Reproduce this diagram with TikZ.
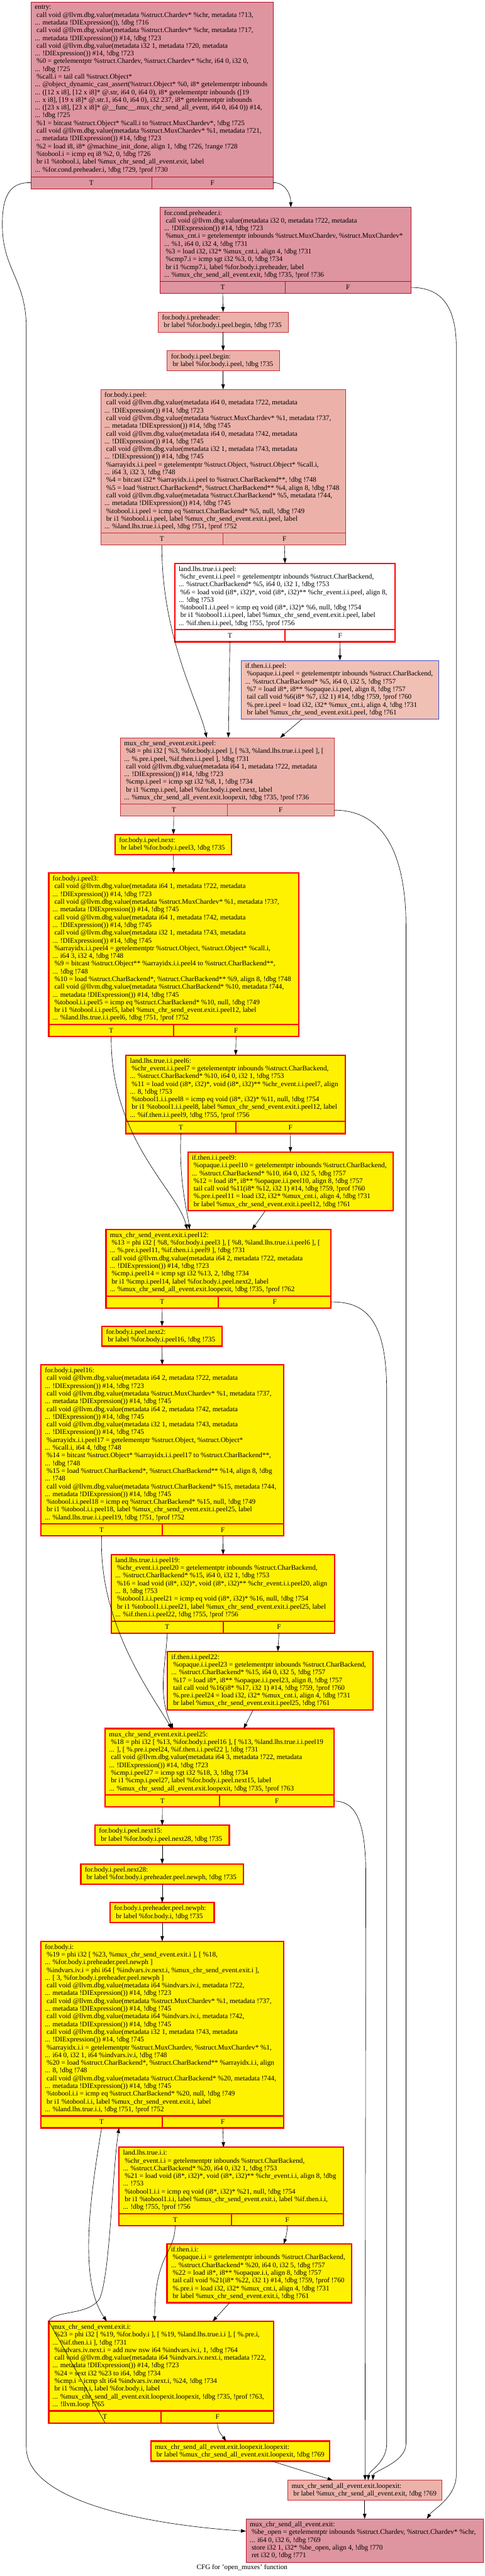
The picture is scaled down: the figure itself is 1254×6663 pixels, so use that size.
\documentclass[tikz,border=0pt]{standalone}
\usepackage{fontspec}
\setmainfont{Liberation Serif}
\usepackage{xcolor}
\usepackage{tikz}
\usetikzlibrary{arrows.meta}
\definecolor{hotline}{HTML}{B70D28}
\definecolor{hotfill}{HTML}{DF95A0}
\definecolor{warmline}{HTML}{C5303A}
\definecolor{warmfill}{HTML}{ECB2AA}
\definecolor{coolline}{HTML}{3D50C3}
\definecolor{coolfill}{HTML}{F1C0B4}
\newcommand{\irfont}{\fontsize{18.2}{20}\selectfont}
% one basic block: name, style, x, y, width, lines, text
\newcommand{\bblock}[7]{%
  \node[irbox, #2, minimum width=#5, minimum height={20*#6+12}] (#1) at (#3,#4) {};
  \node[irtext] (#1-code) at ([xshift=10pt]#1.west) {#7};}
% block ending in a conditional branch: adds the T and F cells
\newcommand{\bbranch}[7]{%
  \bblock{#1}{#2}{#3}{#4}{#5}{#6}{#7}
  \node[irbox, #2, minimum width={#5/2}, minimum height=31] (#1T) at (#1.south west) {T};
  \node[irbox, #2, minimum width={#5/2}, minimum height=31] (#1F) at (#1T.north east) {F};}

\begin{document}
\begin{tikzpicture}[x=1pt, y=-1pt,
    irbox/.style={rectangle, anchor=north west, inner sep=0pt, outer sep=0pt, font=\irfont},
    irtext/.style={anchor=west, inner sep=0pt, align=left, font=\irfont},
    hot/.style={draw=hotline, fill=hotfill, line width=1pt},
    warm/.style={draw=warmline, fill=warmfill, line width=1pt},
    cool/.style={draw=coolline, fill=coolfill, line width=1pt},
    hiwhite/.style={draw=red, fill=white, line width=3.5pt},
    hiyellow/.style={draw=red, fill=yellow, line width=3.5pt},
    flow/.style={-{Triangle[length=13pt,width=9pt]}, line width=1pt}]
\useasboundingbox (0,0) rectangle (1254,6663);

\bbranch{entry}{hot}{80}{5}{626}{22}{entry:\\
\ call void @llvm.dbg.value(metadata \%struct.Chardev* \%chr, metadata !713,\\
... metadata !DIExpression()), !dbg !716\\
\ call void @llvm.dbg.value(metadata \%struct.Chardev* \%chr, metadata !717,\\
... metadata !DIExpression()) \#14, !dbg !723\\
\ call void @llvm.dbg.value(metadata i32 1, metadata !720, metadata\\
... !DIExpression()) \#14, !dbg !723\\
\ \%0 = getelementptr \%struct.Chardev, \%struct.Chardev* \%chr, i64 0, i32 0,\\
... !dbg !725\\
\ \%call.i = tail call \%struct.Object*\\
... @object\_dynamic\_cast\_assert(\%struct.Object* \%0, i8* getelementptr inbounds\\
... ([12 x i8], [12 x i8]* @.str, i64 0, i64 0), i8* getelementptr inbounds ([19\\
... x i8], [19 x i8]* @.str.1, i64 0, i64 0), i32 237, i8* getelementptr inbounds\\
... ([23 x i8], [23 x i8]* @\_\_func\_\_.mux\_chr\_send\_all\_event, i64 0, i64 0)) \#14,\\
... !dbg !725\\
\ \%1 = bitcast \%struct.Object* \%call.i to \%struct.MuxChardev*, !dbg !725\\
\ call void @llvm.dbg.value(metadata \%struct.MuxChardev* \%1, metadata !721,\\
... metadata !DIExpression()) \#14, !dbg !723\\
\ \%2 = load i8, i8* @machine\_init\_done, align 1, !dbg !726, !range !728\\
\ \%tobool.i = icmp eq i8 \%2, 0, !dbg !726\\
\ br i1 \%tobool.i, label \%mux\_chr\_send\_all\_event.exit, label\\
... \%for.cond.preheader.i, !dbg !729, !prof !730}

\bbranch{condpre}{hot}{414}{536}{648}{9}{for.cond.preheader.i:\\
\ call void @llvm.dbg.value(metadata i32 0, metadata !722, metadata\\
... !DIExpression()) \#14, !dbg !723\\
\ \%mux\_cnt.i = getelementptr inbounds \%struct.MuxChardev, \%struct.MuxChardev*\\
... \%1, i64 0, i32 4, !dbg !731\\
\ \%3 = load i32, i32* \%mux\_cnt.i, align 4, !dbg !731\\
\ \%cmp7.i = icmp sgt i32 \%3, 0, !dbg !734\\
\ br i1 \%cmp7.i, label \%for.body.i.preheader, label\\
... \%mux\_chr\_send\_all\_event.exit, !dbg !735, !prof !736}

\bblock{bodypre}{warm}{409}{807}{336}{2}{for.body.i.preheader:\\
\ br label \%for.body.i.peel.begin, !dbg !735}

\bblock{peelbegin}{warm}{432}{907}{290}{2}{for.body.i.peel.begin:\\
\ br label \%for.body.i.peel, !dbg !735}

\bbranch{peel}{warm}{260}{1007}{634}{18}{for.body.i.peel:\\
\ call void @llvm.dbg.value(metadata i64 0, metadata !722, metadata\\
... !DIExpression()) \#14, !dbg !723\\
\ call void @llvm.dbg.value(metadata \%struct.MuxChardev* \%1, metadata !737,\\
... metadata !DIExpression()) \#14, !dbg !745\\
\ call void @llvm.dbg.value(metadata i64 0, metadata !742, metadata\\
... !DIExpression()) \#14, !dbg !745\\
\ call void @llvm.dbg.value(metadata i32 1, metadata !743, metadata\\
... !DIExpression()) \#14, !dbg !745\\
\ \%arrayidx.i.i.peel = getelementptr \%struct.Object, \%struct.Object* \%call.i,\\
... i64 3, i32 3, !dbg !748\\
\ \%4 = bitcast i32* \%arrayidx.i.i.peel to \%struct.CharBackend**, !dbg !748\\
\ \%5 = load \%struct.CharBackend*, \%struct.CharBackend** \%4, align 8, !dbg !748\\
\ call void @llvm.dbg.value(metadata \%struct.CharBackend* \%5, metadata !744,\\
... metadata !DIExpression()) \#14, !dbg !745\\
\ \%tobool.i.i.peel = icmp eq \%struct.CharBackend* \%5, null, !dbg !749\\
\ br i1 \%tobool.i.i.peel, label \%mux\_chr\_send\_event.exit.i.peel, label\\
... \%land.lhs.true.i.i.peel, !dbg !751, !prof !752}

\bbranch{landpeel}{hiwhite}{452}{1457}{570}{8}{land.lhs.true.i.i.peel:\\
\ \%chr\_event.i.i.peel = getelementptr inbounds \%struct.CharBackend,\\
... \%struct.CharBackend* \%5, i64 0, i32 1, !dbg !753\\
\ \%6 = load void (i8*, i32)*, void (i8*, i32)** \%chr\_event.i.i.peel, align 8,\\
... !dbg !753\\
\ \%tobool1.i.i.peel = icmp eq void (i8*, i32)* \%6, null, !dbg !754\\
\ br i1 \%tobool1.i.i.peel, label \%mux\_chr\_send\_event.exit.i.peel, label\\
... \%if.then.i.i.peel, !dbg !755, !prof !756}

\bblock{ifpeel}{cool}{624}{1708}{510}{7}{if.then.i.i.peel:\\
\ \%opaque.i.i.peel = getelementptr inbounds \%struct.CharBackend,\\
... \%struct.CharBackend* \%5, i64 0, i32 5, !dbg !757\\
\ \%7 = load i8*, i8** \%opaque.i.i.peel, align 8, !dbg !757\\
\ tail call void \%6(i8* \%7, i32 1) \#14, !dbg !759, !prof !760\\
\ \%.pre.i.peel = load i32, i32* \%mux\_cnt.i, align 4, !dbg !731\\
\ br label \%mux\_chr\_send\_event.exit.i.peel, !dbg !761}

\bbranch{muxpeel}{warm}{311}{1908}{553}{8}{mux\_chr\_send\_event.exit.i.peel:\\
\ \%8 = phi i32 [ \%3, \%for.body.i.peel ], [ \%3, \%land.lhs.true.i.i.peel ], [\\
... \%.pre.i.peel, \%if.then.i.i.peel ], !dbg !731\\
\ call void @llvm.dbg.value(metadata i64 1, metadata !722, metadata\\
... !DIExpression()) \#14, !dbg !723\\
\ \%cmp.i.peel = icmp sgt i32 \%8, 1, !dbg !734\\
\ br i1 \%cmp.i.peel, label \%for.body.i.peel.next, label\\
... \%mux\_chr\_send\_all\_event.exit.loopexit, !dbg !735, !prof !736}

\bblock{peelnext}{hiyellow}{298}{2158}{301}{2}{for.body.i.peel.next:\\
\ br label \%for.body.i.peel3, !dbg !735}

\bbranch{peelthree}{hiyellow}{126}{2258}{646}{19}{for.body.i.peel3:\\
\ call void @llvm.dbg.value(metadata i64 1, metadata !722, metadata\\
... !DIExpression()) \#14, !dbg !723\\
\ call void @llvm.dbg.value(metadata \%struct.MuxChardev* \%1, metadata !737,\\
... metadata !DIExpression()) \#14, !dbg !745\\
\ call void @llvm.dbg.value(metadata i64 1, metadata !742, metadata\\
... !DIExpression()) \#14, !dbg !745\\
\ call void @llvm.dbg.value(metadata i32 1, metadata !743, metadata\\
... !DIExpression()) \#14, !dbg !745\\
\ \%arrayidx.i.i.peel4 = getelementptr \%struct.Object, \%struct.Object* \%call.i,\\
... i64 3, i32 4, !dbg !748\\
\ \%9 = bitcast \%struct.Object** \%arrayidx.i.i.peel4 to \%struct.CharBackend**,\\
... !dbg !748\\
\ \%10 = load \%struct.CharBackend*, \%struct.CharBackend** \%9, align 8, !dbg !748\\
\ call void @llvm.dbg.value(metadata \%struct.CharBackend* \%10, metadata !744,\\
... metadata !DIExpression()) \#14, !dbg !745\\
\ \%tobool.i.i.peel5 = icmp eq \%struct.CharBackend* \%10, null, !dbg !749\\
\ br i1 \%tobool.i.i.peel5, label \%mux\_chr\_send\_event.exit.i.peel12, label\\
... \%land.lhs.true.i.i.peel6, !dbg !751, !prof !752}

\bbranch{landsix}{hiyellow}{326}{2729}{567}{8}{land.lhs.true.i.i.peel6:\\
\ \%chr\_event.i.i.peel7 = getelementptr inbounds \%struct.CharBackend,\\
... \%struct.CharBackend* \%10, i64 0, i32 1, !dbg !753\\
\ \%11 = load void (i8*, i32)*, void (i8*, i32)** \%chr\_event.i.i.peel7, align\\
... 8, !dbg !753\\
\ \%tobool1.i.i.peel8 = icmp eq void (i8*, i32)* \%11, null, !dbg !754\\
\ br i1 \%tobool1.i.i.peel8, label \%mux\_chr\_send\_event.exit.i.peel12, label\\
... \%if.then.i.i.peel9, !dbg !755, !prof !756}

\bblock{ifnine}{hiyellow}{486}{2980}{530}{7}{if.then.i.i.peel9:\\
\ \%opaque.i.i.peel10 = getelementptr inbounds \%struct.CharBackend,\\
... \%struct.CharBackend* \%10, i64 0, i32 5, !dbg !757\\
\ \%12 = load i8*, i8** \%opaque.i.i.peel10, align 8, !dbg !757\\
\ tail call void \%11(i8* \%12, i32 1) \#14, !dbg !759, !prof !760\\
\ \%.pre.i.peel11 = load i32, i32* \%mux\_cnt.i, align 4, !dbg !731\\
\ br label \%mux\_chr\_send\_event.exit.i.peel12, !dbg !761}

\bbranch{muxtwelve}{hiyellow}{274}{3180}{582}{8}{mux\_chr\_send\_event.exit.i.peel12:\\
\ \%13 = phi i32 [ \%8, \%for.body.i.peel3 ], [ \%8, \%land.lhs.true.i.i.peel6 ], [\\
... \%.pre.i.peel11, \%if.then.i.i.peel9 ], !dbg !731\\
\ call void @llvm.dbg.value(metadata i64 2, metadata !722, metadata\\
... !DIExpression()) \#14, !dbg !723\\
\ \%cmp.i.peel14 = icmp sgt i32 \%13, 2, !dbg !734\\
\ br i1 \%cmp.i.peel14, label \%for.body.i.peel.next2, label\\
... \%mux\_chr\_send\_all\_event.exit.loopexit, !dbg !735, !prof !762}

\bblock{peelnexttwo}{hiyellow}{264}{3430}{310}{2}{for.body.i.peel.next2:\\
\ br label \%for.body.i.peel16, !dbg !735}

\bbranch{peelsixteen}{hiyellow}{106}{3530}{627}{20}{for.body.i.peel16:\\
\ call void @llvm.dbg.value(metadata i64 2, metadata !722, metadata\\
... !DIExpression()) \#14, !dbg !723\\
\ call void @llvm.dbg.value(metadata \%struct.MuxChardev* \%1, metadata !737,\\
... metadata !DIExpression()) \#14, !dbg !745\\
\ call void @llvm.dbg.value(metadata i64 2, metadata !742, metadata\\
... !DIExpression()) \#14, !dbg !745\\
\ call void @llvm.dbg.value(metadata i32 1, metadata !743, metadata\\
... !DIExpression()) \#14, !dbg !745\\
\ \%arrayidx.i.i.peel17 = getelementptr \%struct.Object, \%struct.Object*\\
... \%call.i, i64 4, !dbg !748\\
\ \%14 = bitcast \%struct.Object* \%arrayidx.i.i.peel17 to \%struct.CharBackend**,\\
... !dbg !748\\
\ \%15 = load \%struct.CharBackend*, \%struct.CharBackend** \%14, align 8, !dbg\\
... !748\\
\ call void @llvm.dbg.value(metadata \%struct.CharBackend* \%15, metadata !744,\\
... metadata !DIExpression()) \#14, !dbg !745\\
\ \%tobool.i.i.peel18 = icmp eq \%struct.CharBackend* \%15, null, !dbg !749\\
\ br i1 \%tobool.i.i.peel18, label \%mux\_chr\_send\_event.exit.i.peel25, label\\
... \%land.lhs.true.i.i.peel19, !dbg !751, !prof !752}

\bbranch{landnineteen}{hiyellow}{288}{4021}{578}{8}{land.lhs.true.i.i.peel19:\\
\ \%chr\_event.i.i.peel20 = getelementptr inbounds \%struct.CharBackend,\\
... \%struct.CharBackend* \%15, i64 0, i32 1, !dbg !753\\
\ \%16 = load void (i8*, i32)*, void (i8*, i32)** \%chr\_event.i.i.peel20, align\\
... 8, !dbg !753\\
\ \%tobool1.i.i.peel21 = icmp eq void (i8*, i32)* \%16, null, !dbg !754\\
\ br i1 \%tobool1.i.i.peel21, label \%mux\_chr\_send\_event.exit.i.peel25, label\\
... \%if.then.i.i.peel22, !dbg !755, !prof !756}

\bblock{iftwentytwo}{hiyellow}{433}{4271}{531}{7}{if.then.i.i.peel22:\\
\ \%opaque.i.i.peel23 = getelementptr inbounds \%struct.CharBackend,\\
... \%struct.CharBackend* \%15, i64 0, i32 5, !dbg !757\\
\ \%17 = load i8*, i8** \%opaque.i.i.peel23, align 8, !dbg !757\\
\ tail call void \%16(i8* \%17, i32 1) \#14, !dbg !759, !prof !760\\
\ \%.pre.i.peel24 = load i32, i32* \%mux\_cnt.i, align 4, !dbg !731\\
\ br label \%mux\_chr\_send\_event.exit.i.peel25, !dbg !761}

\bbranch{muxtwentyfive}{hiyellow}{272}{4471}{592}{8}{mux\_chr\_send\_event.exit.i.peel25:\\
\ \%18 = phi i32 [ \%13, \%for.body.i.peel16 ], [ \%13, \%land.lhs.true.i.i.peel19\\
... ], [ \%.pre.i.peel24, \%if.then.i.i.peel22 ], !dbg !731\\
\ call void @llvm.dbg.value(metadata i64 3, metadata !722, metadata\\
... !DIExpression()) \#14, !dbg !723\\
\ \%cmp.i.peel27 = icmp sgt i32 \%18, 3, !dbg !734\\
\ br i1 \%cmp.i.peel27, label \%for.body.i.peel.next15, label\\
... \%mux\_chr\_send\_all\_event.exit.loopexit, !dbg !735, !prof !763}

\bblock{nextfifteen}{hiyellow}{246}{4721}{347}{2}{for.body.i.peel.next15:\\
\ br label \%for.body.i.peel.next28, !dbg !735}

\bblock{nexttwentyeight}{hiyellow}{209}{4821}{421}{2}{for.body.i.peel.next28:\\
\ br label \%for.body.i.preheader.peel.newph, !dbg !735}

\bblock{newph}{hiyellow}{285}{4921}{269}{2}{for.body.i.preheader.peel.newph:\\
\ br label \%for.body.i, !dbg !735}

\bbranch{bodyi}{hiyellow}{106}{5021}{627}{22}{for.body.i:\\
\ \%19 = phi i32 [ \%23, \%mux\_chr\_send\_event.exit.i ], [ \%18,\\
... \%for.body.i.preheader.peel.newph ]\\
\ \%indvars.iv.i = phi i64 [ \%indvars.iv.next.i, \%mux\_chr\_send\_event.exit.i ],\\
... [ 3, \%for.body.i.preheader.peel.newph ]\\
\ call void @llvm.dbg.value(metadata i64 \%indvars.iv.i, metadata !722,\\
... metadata !DIExpression()) \#14, !dbg !723\\
\ call void @llvm.dbg.value(metadata \%struct.MuxChardev* \%1, metadata !737,\\
... metadata !DIExpression()) \#14, !dbg !745\\
\ call void @llvm.dbg.value(metadata i64 \%indvars.iv.i, metadata !742,\\
... metadata !DIExpression()) \#14, !dbg !745\\
\ call void @llvm.dbg.value(metadata i32 1, metadata !743, metadata\\
... !DIExpression()) \#14, !dbg !745\\
\ \%arrayidx.i.i = getelementptr \%struct.MuxChardev, \%struct.MuxChardev* \%1,\\
... i64 0, i32 1, i64 \%indvars.iv.i, !dbg !748\\
\ \%20 = load \%struct.CharBackend*, \%struct.CharBackend** \%arrayidx.i.i, align\\
... 8, !dbg !748\\
\ call void @llvm.dbg.value(metadata \%struct.CharBackend* \%20, metadata !744,\\
... metadata !DIExpression()) \#14, !dbg !745\\
\ \%tobool.i.i = icmp eq \%struct.CharBackend* \%20, null, !dbg !749\\
\ br i1 \%tobool.i.i, label \%mux\_chr\_send\_event.exit.i, label\\
... \%land.lhs.true.i.i, !dbg !751, !prof !752}

\bbranch{landi}{hiyellow}{308}{5554}{580}{8}{land.lhs.true.i.i:\\
\ \%chr\_event.i.i = getelementptr inbounds \%struct.CharBackend,\\
... \%struct.CharBackend* \%20, i64 0, i32 1, !dbg !753\\
\ \%21 = load void (i8*, i32)*, void (i8*, i32)** \%chr\_event.i.i, align 8, !dbg\\
... !753\\
\ \%tobool1.i.i = icmp eq void (i8*, i32)* \%21, null, !dbg !754\\
\ br i1 \%tobool1.i.i, label \%mux\_chr\_send\_event.exit.i, label \%if.then.i.i,\\
... !dbg !755, !prof !756}

\bblock{ifi}{hiyellow}{432}{5804}{478}{7}{if.then.i.i:\\
\ \%opaque.i.i = getelementptr inbounds \%struct.CharBackend,\\
... \%struct.CharBackend* \%20, i64 0, i32 5, !dbg !757\\
\ \%22 = load i8*, i8** \%opaque.i.i, align 8, !dbg !757\\
\ tail call void \%21(i8* \%22, i32 1) \#14, !dbg !759, !prof !760\\
\ \%.pre.i = load i32, i32* \%mux\_cnt.i, align 4, !dbg !731\\
\ br label \%mux\_chr\_send\_event.exit.i, !dbg !761}

\bbranch{muxi}{hiyellow}{126}{6004}{582}{11}{mux\_chr\_send\_event.exit.i:\\
\ \%23 = phi i32 [ \%19, \%for.body.i ], [ \%19, \%land.lhs.true.i.i ], [ \%.pre.i,\\
... \%if.then.i.i ], !dbg !731\\
\ \%indvars.iv.next.i = add nuw nsw i64 \%indvars.iv.i, 1, !dbg !764\\
\ call void @llvm.dbg.value(metadata i64 \%indvars.iv.next.i, metadata !722,\\
... metadata !DIExpression()) \#14, !dbg !723\\
\ \%24 = sext i32 \%23 to i64, !dbg !734\\
\ \%cmp.i = icmp slt i64 \%indvars.iv.next.i, \%24, !dbg !734\\
\ br i1 \%cmp.i, label \%for.body.i, label\\
... \%mux\_chr\_send\_all\_event.exit.loopexit.loopexit, !dbg !735, !prof !763,\\
... !llvm.loop !765}

\bblock{loopll}{hiyellow}{390}{6314}{463}{2}{mux\_chr\_send\_all\_event.exit.loopexit.loopexit:\\
\ br label \%mux\_chr\_send\_all\_event.exit.loopexit, !dbg !769}

\bblock{loopexit}{warm}{744}{6415}{398}{2}{mux\_chr\_send\_all\_event.exit.loopexit:\\
\ br label \%mux\_chr\_send\_all\_event.exit, !dbg !769}

\bblock{allexit}{hot}{636}{6515}{614}{5}{mux\_chr\_send\_all\_event.exit:\\
\ \%be\_open = getelementptr inbounds \%struct.Chardev, \%struct.Chardev* \%chr,\\
... i64 0, i32 6, !dbg !769\\
\ store i32 1, i32* \%be\_open, align 4, !dbg !770\\
\ ret i32 0, !dbg !771}

\node[font=\irfont] (caption) at (626,6642) {CFG for 'open\_muxes' function};

% straight edges
\path[flow]
  (condpreT.south) edge (bodypre.north)
  (bodypre.south) edge (peelbegin.north)
  (peelbegin.south) edge (peel.north)
  (peelF.south) edge (landpeel.north)
  (landpeelT.south) edge ([xshift=3]muxpeel.north)
  (landpeelF.south) edge (ifpeel.north)
  ([xshift=-98]ifpeel.south) edge ([xshift=137]muxpeel.north)
  (muxpeelT.south) edge (peelnext.north)
  (peelnext.south) edge (peelthree.north)
  (peelthreeF.south) edge (landsix.north)
  (landsixF.south) edge (ifnine.north)
  ([xshift=-65]ifnine.south) edge ([xshift=87]muxtwelve.north)
  (muxtwelveT.south) edge (peelnexttwo.north)
  (peelnexttwo.south) edge (peelsixteen.north)
  (peelsixteenF.south) edge (landnineteen.north)
  (landnineteenF.south) edge ([xshift=20]iftwentytwo.north)
  ([xshift=-44]iftwentytwo.south) edge ([xshift=62]muxtwentyfive.north)
  (muxtwentyfiveT.south) edge (nextfifteen.north)
  (nextfifteen.south) edge (nexttwentyeight.north)
  (nexttwentyeight.south) edge (newph.north)
  (newph.south) edge (bodyi.north)
  (bodyiF.south) edge ([xshift=-20]landi.north)
  ([xshift=-77]ifi.south) edge ([xshift=133]muxi.north)
  ([xshift=82]loopll.south) edge ([xshift=-83]loopexit.north)
  (loopexit.south) edge (allexit.north);

% curved edges
\draw[flow] (entryT.west) .. controls (30,471) and (6,500) .. (6,580)
  .. controls (6,700) and (68,720) .. (68,850) -- (68,6330)
  .. controls (68,6470) and (380,6530) .. ([yshift=-32]allexit.north west);
\draw[flow] (entryF.east) .. controls (735,471) and (752,500) .. ([xshift=14]condpre.north);
\draw[flow] (condpreF.east) .. controls (1140,743) and (1180,790) .. (1180,900) -- (1180,6400)
  .. controls (1180,6460) and (1120,6490) .. ([xshift=161]allexit.north);
\draw[flow] (peelT.south) .. controls (418,1650) and (515,1820) .. ([xshift=-53]muxpeel.north);
\draw[flow] (muxpeelF.east) .. controls (960,2095) and (1050,2160) .. (1050,2400) -- (1050,6320)
  .. controls (1050,6370) and (966,6390) .. ([xshift=21]loopexit.north);
\draw[flow] (peelthreeT.south) .. controls (286,2950) and (460,3080) .. ([xshift=-81]muxtwelve.north);
\draw[flow] (landsixT.south) .. controls (462,3060) and (486,3140) .. ([xshift=-75]muxtwelve.north);
\draw[flow] (muxtwelveF.east) .. controls (950,3366) and (1000,3420) .. (1000,3600) -- (1000,6320)
  .. controls (1000,6370) and (954,6390) .. ([xshift=9]loopexit.north);
\draw[flow] (peelsixteenT.south) .. controls (255,4200) and (390,4380) .. ([xshift=-124]muxtwentyfive.north);
\draw[flow] (landnineteenT.south) .. controls (430,4300) and (405,4380) .. ([xshift=-120]muxtwentyfive.north);
\draw[flow] (muxtwentyfiveF.east) .. controls (915,4659) and (946,4700) .. (946,4850)
  -- ([xshift=1]loopexit.north);
\draw[flow] (bodyiT.south) .. controls (230,5700) and (205,5900) .. ([xshift=-141]muxi.north);
\draw[flow] (landiT.south) .. controls (452,5830) and (400,5830) .. ([xshift=-17]muxi.north);
\draw[flow] (landiF.south) .. controls (743,5775) and (738,5790) .. ([xshift=63]ifi.north);
\draw[flow] (muxiT.south) -- (muxi.north west) .. controls (140,5975) and (230,5990) .. (258,5945)
  .. controls (285,5880) and (290,5620) .. ([xshift=45]bodyiT.south);
\draw[flow] (muxiF.south) .. controls (562,6290) and (575,6300) .. ([xshift=-37]loopll.north);
\end{tikzpicture}
\end{document}
